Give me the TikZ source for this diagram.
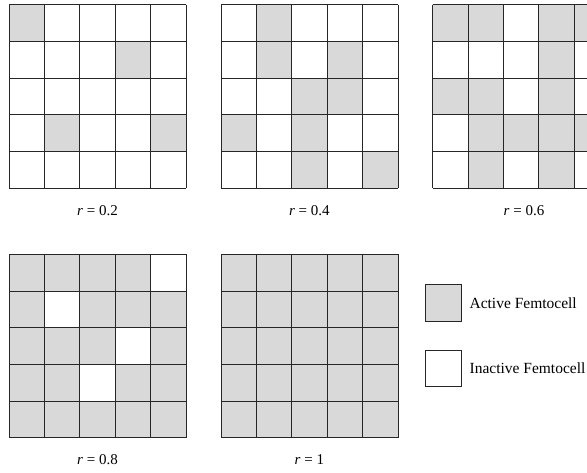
\documentclass[tikz,border=0pt]{standalone}
\usepackage{fontspec}
\setmainfont{Liberation Serif}
\usepackage{tikz}
\usetikzlibrary{positioning}
\tikzset{
  active/.style={fill=black!15},
  cellline/.style={draw=black!85, line width=0.9pt},
  legendbox/.style={draw=black!85, line width=0.9pt, minimum width=35.3pt, minimum height=36.7pt, inner sep=0pt},
  caption/.style={font=\fontsize{15}{17}\selectfont},
  legendtext/.style={font=\fontsize{15.5}{18}\selectfont, inner sep=0pt},
}
% one 5x5 block of femtocells: left, top, rows of 0/1 (1 = active)
\newcommand{\femtogrid}[3]{%
  \foreach \row [count=\j] in {#3} {
    \foreach \v [count=\i] in \row {
      \ifnum\v=1
        \fill[active] ({#1+(\i-1)*35.4},{#2+(\j-1)*36.7}) rectangle +(35.4,36.7);
      \fi
    }
  }
  \foreach \k in {0,...,5} {
    \draw[cellline] ({#1+\k*35.4},#2) -- +(0,183.5);
    \draw[cellline] (#1,{#2+\k*36.7}) -- +(177,0);
  }
}

\begin{document}
\begin{tikzpicture}[x=1pt, y=-1pt]
    \useasboundingbox (0,0) rectangle (587,472);
    \clip (0,0) rectangle (587,472);

    % top row
    \femtogrid{9}{4.7}{{1,0,0,0,0},{0,0,0,1,0},{0,0,0,0,0},{0,1,0,0,1},{0,0,0,0,0}}
    \femtogrid{221}{4.7}{{0,1,0,0,0},{0,1,0,1,0},{0,0,1,1,0},{1,0,1,0,0},{0,0,1,0,1}}
    \femtogrid{432.7}{4.7}{{1,1,0,1,1},{0,0,0,1,0},{1,1,0,1,0},{0,1,1,1,1},{0,1,0,1,0}}
    % bottom row
    \femtogrid{9}{254.3}{{1,1,1,1,0},{1,0,1,1,1},{1,1,1,0,1},{1,1,0,1,1},{1,1,1,1,1}}
    \femtogrid{221}{254.3}{{1,1,1,1,1},{1,1,1,1,1},{1,1,1,1,1},{1,1,1,1,1},{1,1,1,1,1}}

    \node[caption] (capA) at (97.5,211)  {\textit{r} = 0.2};
    \node[caption] (capB) at (309.4,211) {\textit{r} = 0.4};
    \node[caption] (capC) at (524,211)   {\textit{r} = 0.6};
    \node[caption] (capD) at (97.5,460)  {\textit{r} = 0.8};
    \node[caption] (capE) at (309.4,460) {\textit{r} = 1};

    % legend
    \node[legendbox, active] (activebox)   at (443.3,302.7) {};
    \node[legendbox]         (inactivebox) at (443.3,368.3) {};
    \node[legendtext, right=8pt of activebox]   (activetext)   {Active Femtocell};
    \node[legendtext, right=8pt of inactivebox] (inactivetext) {Inactive Femtocell};
\end{tikzpicture}
\end{document}
